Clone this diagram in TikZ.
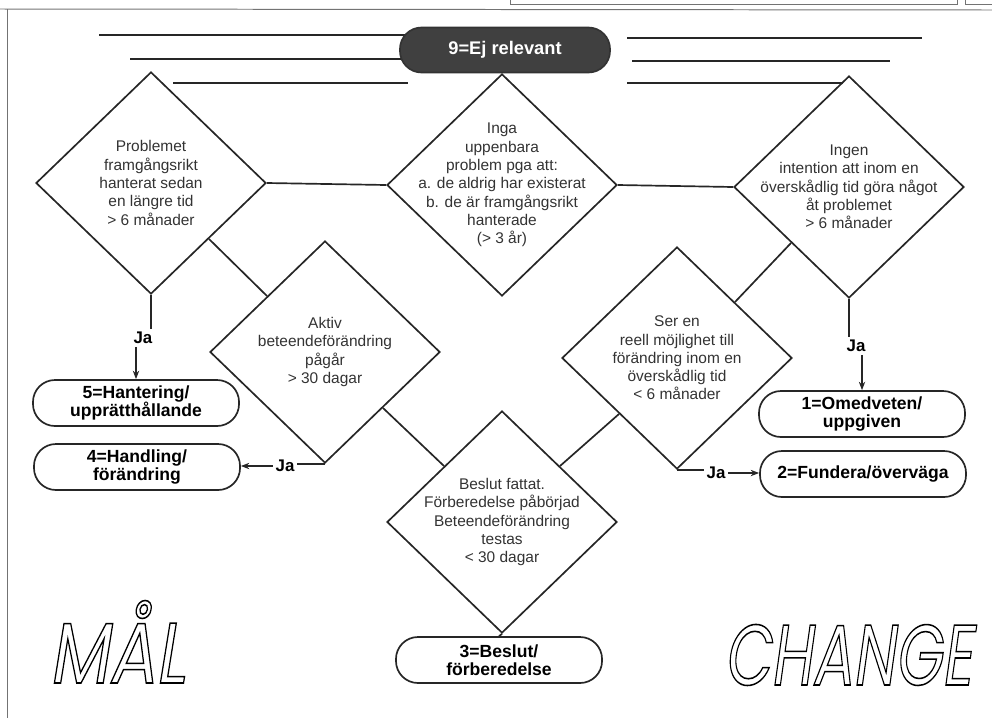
\documentclass[tikz,border=0pt]{standalone}
\usepackage{fontspec}
\setmainfont{Liberation Sans}
\newfontfamily\bigfont{Poppins}[FakeSlant=0.2]
\newcommand{\hollow}[1]{\special{pdf:literal direct 1 Tr 1.1 w}#1\special{pdf:literal direct 0 Tr}}
\usetikzlibrary{shapes.geometric,arrows.meta}

\begin{document}
\begin{tikzpicture}[
        x = 0.025cm, y = -0.025cm,
        line width = 1.2pt,
        draw = black!85,
        >={Stealth[length=6pt,width=4.5pt]},
        dia/.style = {draw, diamond, minimum width=5.75cm, minimum height=5.55cm, inner sep=0pt},
        dtext/.style = {align=center, font=\fontsize{11}{13}\selectfont, text=black!80},
        stage/.style = {draw, rounded corners=0.55cm, minimum width=5.15cm, minimum height=1.15cm,
            align=center, inner sep=0pt, font=\fontsize{12.5}{13}\selectfont\bfseries},
        pill/.style = {draw=black!80, fill=black!75, text=white, rounded corners=0.54cm,
            minimum width=5.25cm, minimum height=1.125cm, font=\fontsize{13}{13}\selectfont\bfseries},
        ja/.style = {inner sep=1.5pt, font=\fontsize{12}{12}\selectfont\bfseries},
        rule/.style = {line width=2pt, black!85},
        scan/.style = {line width=0.7pt, black!55},
        big/.style = {anchor=base, xscale=0.7, text=black, font=\bigfont\fontsize{61}{61}\selectfont}
    ]
        \useasboundingbox (0,0) rectangle (992,718);
        \draw[scan] (0,9) -- (992,10);
        \draw[scan] (7,9) -- (7,718);
        \draw[scan] (510,0) -- (510,4) -- (957,4) -- (957,0);
        \draw[scan] (965,0) -- (965,4) -- (992,4);

        \draw[rule] (99,35) -- (405,35);
        \draw[rule] (130,59) -- (402,59);
        \draw[rule] (173,83) -- (408,83);
        \draw[rule] (627,38) -- (922,38);
        \draw[rule] (632,61) -- (890,61);
        \draw[rule] (627,83) -- (843,83);
        \node[pill] (s9) at (505,50) {9=Ej relevant};

        \node[dia, label={[dtext]center:{Problemet\\framgångsrikt\\hanterat sedan\\en längre tid\\> 6 månader}}] (P) at (151,183) {};
        \node[dia, label={[dtext]center:{Inga\\uppenbara\\problem pga att:\\a. de aldrig har existerat\\b. de är framgångsrikt\\hanterade\\(> 3 år)}}] (I) at (502,185) {};
        \node[dia, label={[dtext]center:{Ingen\\intention att inom en\\överskådlig tid göra något\\åt problemet\\> 6 månader}}] (R) at (849,187) {};
        \node[dia, label={[dtext]center:{Aktiv\\beteendeförändring\\pågår\\> 30 dagar}}] (A) at (325,352) {};
        \node[dia, label={[dtext]center:{Ser en\\reell möjlighet till\\förändring inom en\\överskådlig tid\\< 6 månader}}] (S) at (677,358) {};
        \node[dia, label={[dtext]center:{Beslut fattat.\\Förberedelse påbörjad\\Beteendeförändring\\testas\\< 30 dagar}}] (B) at (502,522) {};

        \node[stage] (s5) at (136,403) {5=Hantering/\\upprätthållande};
        \node[stage] (s4) at (137,467) {4=Handling/\\förändring};
        \node[stage] (s1) at (862,414) {1=Omedveten/\\uppgiven};
        \node[stage] (s2) at (863,474) {2=Fundera/överväga};
        \node[stage] (s3) at (499,660) {3=Beslut/\\förberedelse};

        \node[ja] (ja5) at (143,338) {Ja};
        \node[ja] (ja4) at (285,466) {Ja};
        \node[ja] (ja1) at (856,346) {Ja};
        \node[ja] (ja2) at (716,473) {Ja};

        \draw (P.east) -- (I.west);
        \draw (I.east) -- (R.west);
        \draw (P.south east) -- (A.north west);
        \draw (A.south east) -- (B.north west);
        \draw (B.north east) -- (S.south west);
        \draw (S.north east) -- (R.south west);
        \draw (B.south) -- (s3.north);

        \draw (P.south) -- (P.south |- ja5.north);
        \draw[->] (ja5.south -| s5.north) -- (s5.north);
        \draw (R.south) -- (R.south |- ja1.north);
        \draw[->] (ja1.south -| s1.north) -- (s1.north);
        \draw (A.south) -- (A.south -| ja4.east);
        \draw[->] (ja4.west) -- (ja4.west -| s4.east);
        \draw (S.south) -- (S.south -| ja2.west);
        \draw[->] (ja2.east) -- (ja2.east -| s2.west);

        \node[big, xscale=1.15] (mal) at (117,683) {\hollow{MÅL}};
        \node[big] (change) at (848,685) {\hollow{CHANGE}};
    \end{tikzpicture}
\end{document}
